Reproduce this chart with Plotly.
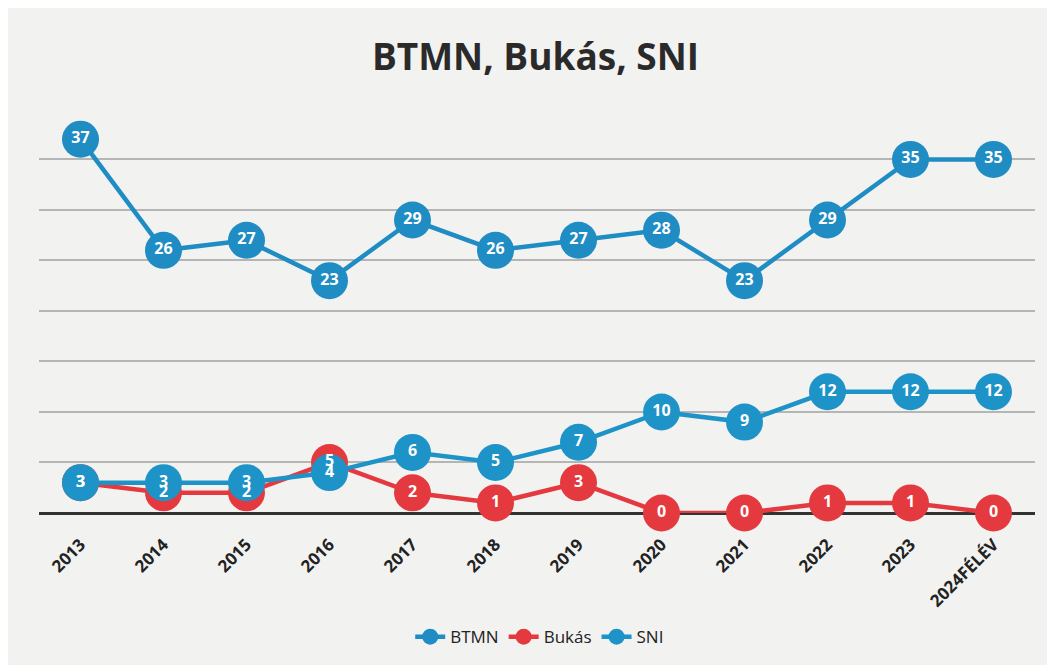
import plotly.graph_objects as go

categories = ["2013", "2014", "2015", "2016", "2017", "2018", "2019", "2020", "2021", "2022", "2023", "2024FÉLÉV"]
btmn = [37, 26, 27, 23, 29, 26, 27, 28, 23, 29, 35, 35]
bukas = [3, 2, 2, 5, 2, 1, 3, 0, 0, 1, 1, 0]
sni = [3, 3, 3, 4, 6, 5, 7, 10, 9, 12, 12, 12]

BLUE1 = "#1f8cc4"
BLUE2 = "#1d93c8"
RED = "#e43a3f"
FONT = "Open Sans"

fig = go.Figure()

series = [("BTMN", btmn, BLUE1), ("Bukás", bukas, RED), ("SNI", sni, BLUE2)]

for name, vals, color in series:
    fig.add_trace(go.Scatter(
        x=categories, y=vals, name=name,
        mode="lines+markers",
        line=dict(color=color, width=4.5),
        marker=dict(color=color, size=37),
        cliponaxis=False,
    ))

for name, vals, color in series:
    fig.add_trace(go.Scatter(
        x=categories, y=vals, name=name, showlegend=False,
        mode="text",
        text=[str(v) for v in vals],
        textposition="middle center",
        textfont=dict(color="white", size=16, family=FONT, weight="bold"),
        cliponaxis=False, hoverinfo="skip",
    ))

fig.update_layout(
    width=1055, height=665,
    paper_bgcolor="#f2f2f1", plot_bgcolor="#f2f2f1",
    margin=dict(l=31, r=28, t=111, b=160, autoexpand=False),
    title=dict(text="<b>BTMN, Bukás, SNI</b>", x=0.5, xanchor="center", y=0.926, yanchor="middle",
               font=dict(family=FONT, size=37, color="#2a2a2a")),
    showlegend=True,
    legend=dict(orientation="h", x=0.504, xanchor="center", y=0.054, yanchor="middle",
                yref="container", xref="container",
                font=dict(family=FONT, size=17, color="#222"), bgcolor="rgba(0,0,0,0)"),
    xaxis=dict(type="category", range=[-0.5, 11.5], showgrid=False, tickangle=-45,
               tickfont=dict(family=FONT, size=17, color="#222", weight="bold"),
               showline=False, ticks="outside", ticklen=14, tickcolor="rgba(0,0,0,0)"),
    yaxis=dict(range=[0, 39], dtick=5, showgrid=True, gridcolor="#b5b5b5", gridwidth=1.5,
               showticklabels=False, zeroline=True, zerolinecolor="#333", zerolinewidth=2.5,
               ticks=""),
)

fig.write_html("out.html")
